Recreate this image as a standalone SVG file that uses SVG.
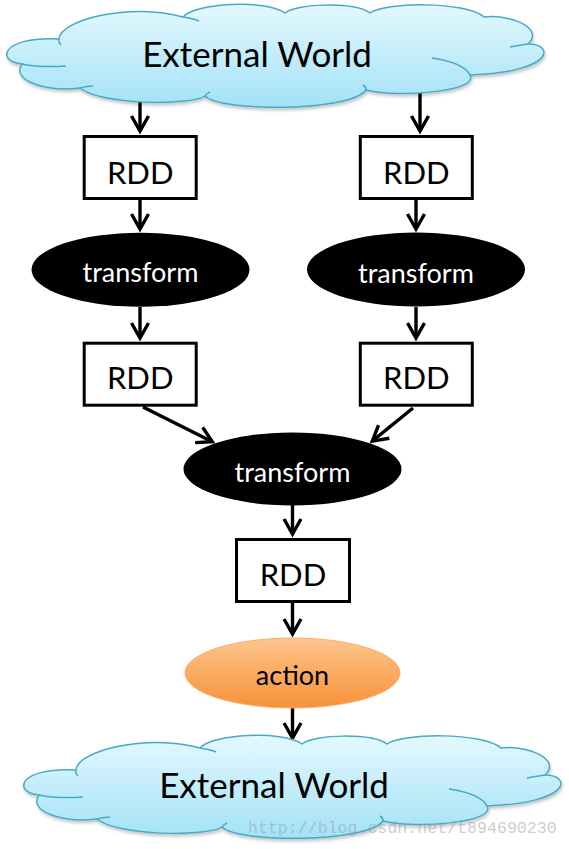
<svg xmlns="http://www.w3.org/2000/svg" xmlns:xlink="http://www.w3.org/1999/xlink" width="569" height="849" viewBox="0 0 569 849">
  <style>
    .cloud-body { fill: url(#cloudGrad); stroke: #46AAC5; stroke-width: 1.5; }
    .cloud-inner { fill: none; stroke: #46AAC5; stroke-width: 1.5; }
    .cloud-text { font-family: Lato, "Open Sans", sans-serif; font-size: 35px; fill: #000; text-anchor: middle; }
    .rdd rect { fill: #fff; stroke: #000; stroke-width: 3; }
    .rdd text { font-family: Lato, "Open Sans", sans-serif; font-size: 31px; fill: #000; text-anchor: middle; }
    .transform ellipse { fill: #000; }
    .transform text { font-family: Lato, "Open Sans", sans-serif; font-size: 27px; fill: #fff; text-anchor: middle; }
    .action ellipse { fill: url(#actionGrad); stroke: #F8AE6C; stroke-width: 1; }
    .action text { font-family: Lato, "Open Sans", sans-serif; font-size: 27px; fill: #000; text-anchor: middle; }
    .conn path { fill: none; stroke: #000; stroke-width: 3.4; marker-end: url(#arrow); }
    .watermark { font-family: "Liberation Mono", "DejaVu Sans Mono", monospace; font-size: 16.6px; fill: #9a9a9a; fill-opacity: 0.5; }
  </style>
  <defs>
    <linearGradient id="cloudGrad" gradientUnits="userSpaceOnUse" x1="0" y1="5" x2="0" y2="106">
      <stop offset="0" stop-color="#E4F8FE"/>
      <stop offset="1" stop-color="#A3E2F7"/>
    </linearGradient>
    <linearGradient id="actionGrad" x1="0" y1="0" x2="0" y2="1">
      <stop offset="0" stop-color="#FDC690"/>
      <stop offset="0.5" stop-color="#FAAB60"/>
      <stop offset="1" stop-color="#F6923C"/>
    </linearGradient>
    <filter id="cloudShadow" x="-5%" y="-10%" width="110%" height="130%">
      <feDropShadow dx="1" dy="2.5" stdDeviation="1.5" flood-color="#000" flood-opacity="0.22"/>
    </filter>
    <marker id="arrow" markerUnits="userSpaceOnUse" markerWidth="24" markerHeight="24" viewBox="-18 -12 24 24" refX="0" refY="0" orient="auto">
      <path d="M-15,-8.5 L0,0 L-15,8.5" fill="none" stroke="#000" stroke-width="3.4"/>
    </marker>
    <g id="cloudShape">
      <path class="cloud-body" filter="url(#cloudShadow)" d="M22,64 C-4,62 0,36 59,39 C60,20 130,2 183,17 C195,3 265,-1 285,13 C297,3 355,2 370,13 C385,2 465,1 484,17 C510,14 545,28 528,44 C555,44 555,72 470,75 C480,92 395,98 366,90 C350,112 220,112 205,96 C190,106 100,105 80,88 C50,92 10,82 22,64 Z"/>
      <path class="cloud-inner" d="M22,64 C36,67 52,67 66,66 M59,39 C58,41 59,43 61,45 M183,17 C189,18 195,19 199,21 M80,88 C84,87 89,86 93,86 M528,44 C521,45 515,46 510,47 M432,58 C452,61 466,67 470,75 M366,90 C366,88 365,86 363,85 M205,96 C206,94 208,93 210,92"/>
    </g>
  </defs>

  <rect width="569" height="849" fill="#fff"/>

  <g id="connectors" class="conn">
    <path d="M140,101 V131"/>
    <path d="M420,91 V131"/>
    <path d="M140,200 V229"/>
    <path d="M416,200 V229"/>
    <path d="M140,307 V338"/>
    <path d="M416,307 V338"/>
    <path d="M143,407 L212.3,441.7"/>
    <path d="M413,408 L372.3,441.1"/>
    <path d="M292.5,505 V534"/>
    <path d="M292.5,603 V634"/>
    <path d="M292.5,708 V738"/>
  </g>

  <g id="external-world-top">
    <use xlink:href="#cloudShape" href="#cloudShape"/>
    <text class="cloud-text" x="257" y="67">External World</text>
  </g>

  <g id="rdd1" class="rdd">
    <rect x="84.2" y="136.5" width="112" height="62"/>
    <text x="140.2" y="184">RDD</text>
  </g>
  <g id="rdd2" class="rdd">
    <rect x="360.3" y="136.5" width="112" height="62"/>
    <text x="416.3" y="184">RDD</text>
  </g>

  <g id="transform1" class="transform">
    <ellipse cx="140.5" cy="269.7" rx="109" ry="37"/>
    <text x="140.5" y="282">transform</text>
  </g>
  <g id="transform2" class="transform">
    <ellipse cx="416" cy="269.5" rx="109" ry="37"/>
    <text x="416" y="282.5">transform</text>
  </g>

  <g id="rdd3" class="rdd">
    <rect x="84.2" y="343.2" width="112" height="62"/>
    <text x="140.2" y="389">RDD</text>
  </g>
  <g id="rdd4" class="rdd">
    <rect x="360.3" y="343.2" width="112" height="62"/>
    <text x="416.3" y="389">RDD</text>
  </g>

  <g id="transform3" class="transform">
    <ellipse cx="292.5" cy="469" rx="109" ry="36.5"/>
    <text x="292.5" y="481.5">transform</text>
  </g>

  <g id="rdd5" class="rdd">
    <rect x="236.5" y="539.5" width="113" height="62"/>
    <text x="293" y="586">RDD</text>
  </g>

  <g id="action" class="action">
    <ellipse cx="292.5" cy="673" rx="107.5" ry="35"/>
    <text x="292.5" y="685">action</text>
  </g>

  <g id="external-world-bottom">
    <use xlink:href="#cloudShape" href="#cloudShape" transform="translate(17,731)"/>
    <text class="cloud-text" x="274" y="798">External World</text>
  </g>

  <text class="watermark" x="248" y="833">http://blog.csdn.net/t894690230</text>
</svg>
